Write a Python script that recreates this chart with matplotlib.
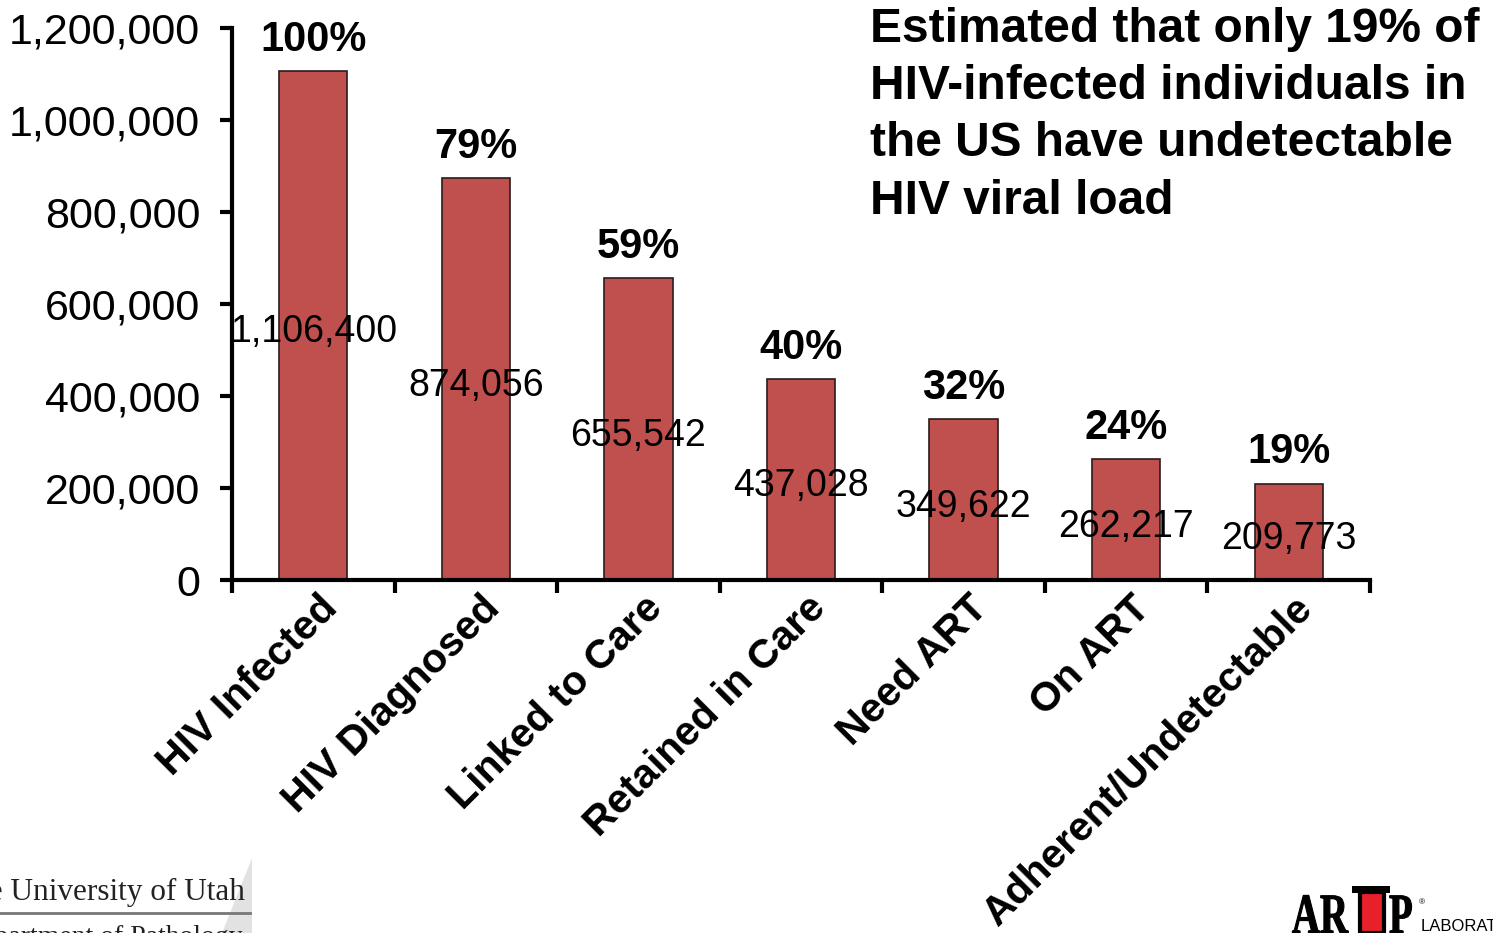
import matplotlib
matplotlib.use("Agg")
import numpy as np
import matplotlib.pyplot as plt
from matplotlib.patches import Rectangle, Polygon, PathPatch
from matplotlib.textpath import TextPath
from matplotlib.font_manager import FontProperties
from matplotlib.transforms import Affine2D

# HIV care cascade, US estimates
stages = ["HIV Infected", "HIV Diagnosed", "Linked to Care", "Retained in Care",
          "Need ART", "On ART", "Adherent/Undetectable"]
counts = [1106400, 874056, 655542, 437028, 349622, 262217, 209773]
percents = ["100%", "79%", "59%", "40%", "32%", "24%", "19%"]
yticks = [0, 200000, 400000, 600000, 800000, 1000000, 1200000]

bar_color = "#C0504D"

plt.rcParams["font.family"] = ["Liberation Sans", "DejaVu Sans"]

W, H = 1493, 933
fig = plt.figure(figsize=(W / 100, H / 100), dpi=100)
ax = fig.add_axes([232 / W, 1 - 580 / H, (1370 - 232) / W, (580 - 28) / H])

x = np.arange(len(stages))
ax.bar(x, counts, width=0.42, color=bar_color, edgecolor="#2b1b1b", linewidth=1.2, zorder=2)

ax.set_xlim(-0.5, len(stages) - 0.5)
ax.set_ylim(0, 1200000)

for s in ["top", "right"]:
    ax.spines[s].set_visible(False)
for s in ["left", "bottom"]:
    ax.spines[s].set_linewidth(3)

ax.set_yticks(yticks)
ax.set_yticklabels([f"{v:,}" for v in yticks], fontsize=31)
ax.set_xticks(np.arange(-0.5, len(stages), 1.0))
ax.set_xticklabels([])
ax.tick_params(axis="both", direction="out", length=9, width=3, color="black")
ax.tick_params(axis="y", pad=14)

# percent of infected above each bar, count in the middle of it
for xi, c, p in zip(x, counts, percents):
    ax.annotate(p, (xi, c), xytext=(0, 8), textcoords="offset points",
                ha="center", va="bottom", fontsize=30, fontweight="bold")
    ax.annotate(f"{c:,}", (xi, c / 2), xytext=(0, -5), textcoords="offset points",
                ha="center", va="center", fontsize=27, zorder=3)

# rotated stage names under the axis
for xi, name in zip(x, stages):
    ax.text(xi + 0.03, -0.016, name, transform=ax.get_xaxis_transform(),
            rotation=45, rotation_mode="anchor", ha="right", va="top",
            fontsize=29.5, fontweight="bold")

fig.text(870 / W, 1 - 7 / H,
         "Estimated that only 19% of\nHIV-infected individuals in\n"
         "the US have undetectable\nHIV viral load",
         ha="left", va="top", fontsize=34.5, fontweight="bold", linespacing=1.35)

# footer: University of Utah logo
fig.add_artist(Polygon([(252 / W, 1 - 858 / H), (252 / W, 0), (222 / W, 0)],
                       closed=True, transform=fig.transFigure,
                       facecolor="#e2e2e2", edgecolor="none"))
fig.text(245 / W, 1 - 900 / H, "The University of Utah", ha="right", va="baseline",
         fontsize=22.5, family="Liberation Serif", color="#222222")
fig.add_artist(plt.Line2D([0, 250 / W], [1 - 913 / H, 1 - 913 / H], color="#777777", lw=2))
fig.text(242 / W, 1 - 944 / H, "Department of Pathology", ha="right", va="baseline",
         fontsize=20, family="Liberation Serif", color="#222222")

# footer: ARUP logo, letters drawn as narrow glyph outlines in pixel space
serif_bold = FontProperties(family="Liberation Serif", weight="bold")
for txt, px in [("AR", 1292), ("P", 1389)]:
    path = TextPath((0, 0), txt, size=57, prop=serif_bold)
    fig.add_artist(PathPatch(path, transform=Affine2D().scale(0.68, 1).translate(px, 0),
                             facecolor="black", edgecolor="black", lw=0.8))
fig.add_artist(Rectangle((1360 / W, 0), 24 / W, 41 / H, transform=fig.transFigure,
                         facecolor="#E8202A", edgecolor="black", lw=3))
fig.add_artist(Rectangle((1352 / W, 40 / H), 38 / W, 7 / H, transform=fig.transFigure,
                         facecolor="black", edgecolor="none"))
fig.text(1419 / W, 1 - 904 / H, "®", ha="left", va="baseline", fontsize=6)
fig.text(1421 / W, 1 - 931 / H, "LABORATORIES", ha="left", va="baseline", fontsize=12)

fig.savefig("out.png", dpi=100)
